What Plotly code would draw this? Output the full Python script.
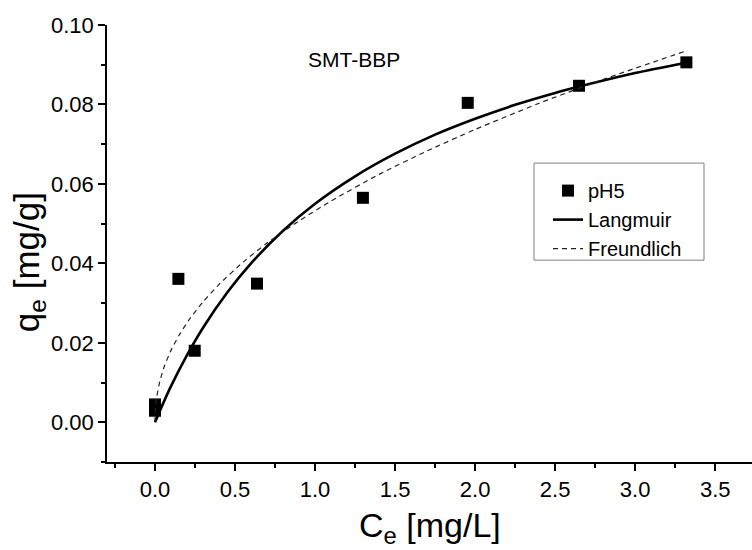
import plotly.graph_objects as go

# Experimental data (pH5)
ce_data = [0.0, 0.0, 0.146, 0.248, 0.637, 1.299, 1.954, 2.649, 3.32]
qe_data = [0.0045, 0.0029, 0.0361, 0.0180, 0.0349, 0.0565, 0.0804, 0.0847, 0.0906]

# Langmuir fit curve
ce_lang = [0.0, 0.05, 0.1, 0.2, 0.3, 0.45, 0.6, 0.8, 1.0, 1.25, 1.5, 1.75, 2.0, 2.25, 2.5, 2.75, 3.0, 3.32]
qe_lang = [0.0, 0.0047, 0.0091, 0.0169, 0.0238, 0.0326, 0.0400, 0.0482, 0.0550, 0.0619, 0.0676,
           0.0724, 0.0764, 0.0799, 0.0829, 0.0855, 0.0879, 0.0905]

# Freundlich fit curve
ce_freu = [0.0, 0.002, 0.01, 0.03, 0.06, 0.1, 0.15, 0.22, 0.3, 0.4, 0.55, 0.7, 0.9, 1.1, 1.4, 1.7,
           2.0, 2.4, 2.8, 3.32]
qe_freu = [0.0, 0.0029, 0.0062, 0.0103, 0.0143, 0.0181, 0.0219, 0.0262, 0.0303, 0.0347, 0.0403,
           0.0451, 0.0507, 0.0557, 0.0624, 0.0683, 0.0737, 0.0803, 0.0863, 0.0935]

FONT = "Arial, Liberation Sans, sans-serif"

# plot-area geometry in pixels (for placing annotations / legend box)
L, R, T, B = 107, 752, 25, 461.7
W, H = R - L, B - T


def px(x):
    return (x - L) / W


def py(y):
    return (B - y) / H


fig = go.Figure()
fig.add_trace(go.Scatter(x=ce_data, y=qe_data, mode="markers", name="pH5",
                         marker=dict(symbol="square", size=12, color="black")))
fig.add_trace(go.Scatter(x=ce_lang, y=qe_lang, mode="lines", name="Langmuir",
                         line=dict(color="black", width=2.6, shape="spline", smoothing=0.8)))
fig.add_trace(go.Scatter(x=ce_freu, y=qe_freu, mode="lines", name="Freundlich",
                         line=dict(color="#222222", width=1.2, dash="5px,4px", shape="spline", smoothing=0.6)))

fig.update_layout(
    width=752, height=550,
    margin=dict(l=L, r=752 - R, t=T, b=550 - B),
    paper_bgcolor="white", plot_bgcolor="white",
    font=dict(family=FONT, color="black"),
    showlegend=True,
    legend=dict(x=px(548), y=py(171), xanchor="left", yanchor="top",
                borderwidth=0, bgcolor="rgba(0,0,0,0)",
                font=dict(size=20, family=FONT, color="black"),
                tracegroupgap=0),
    xaxis=dict(range=[-0.3, 3.73], showgrid=False, zeroline=False,
               showline=True, linecolor="black", linewidth=1.5,
               ticks="outside", ticklen=7, tickwidth=1.5, tickcolor="black",
               tick0=0, dtick=0.5, tickformat=".1f",
               tickfont=dict(size=22, family=FONT, color="black"),
               minor=dict(dtick=0.25, tick0=0, ticks="outside", ticklen=4, tickwidth=1.5, tickcolor="black")),
    yaxis=dict(range=[-0.01, 0.10], showgrid=False, zeroline=False,
               showline=True, linecolor="black", linewidth=1.5,
               ticks="outside", ticklen=7, tickwidth=1.5, tickcolor="black",
               tick0=0, dtick=0.02, tickformat=".2f",
               tickfont=dict(size=22, family=FONT, color="black"),
               minor=dict(dtick=0.01, tick0=0, ticks="outside", ticklen=4, tickwidth=1.5, tickcolor="black")),
)

# legend frame
fig.add_shape(type="rect", xref="paper", yref="paper",
              x0=px(534), x1=px(704), y0=py(260), y1=py(163),
              line=dict(color="#808080", width=1), fillcolor="rgba(0,0,0,0)", layer="below")

fig.add_annotation(text="C<sub>e</sub> [mg/L]", xref="paper", yref="paper",
                   x=0.5, y=py(527), xanchor="center", yanchor="middle", showarrow=False,
                   font=dict(size=34, family=FONT, color="black"))
fig.add_annotation(text="q<sub>e</sub> [mg/g]", xref="paper", yref="paper",
                   x=px(29), y=py(262), xanchor="center", yanchor="middle", showarrow=False,
                   textangle=-90, font=dict(size=35, family=FONT, color="black"))
fig.add_annotation(text="SMT-BBP", xref="paper", yref="paper",
                   x=px(354), y=py(59.3), xanchor="center", yanchor="middle",
                   showarrow=False, font=dict(size=21, family=FONT, color="black"))

fig.write_html("out.html")
